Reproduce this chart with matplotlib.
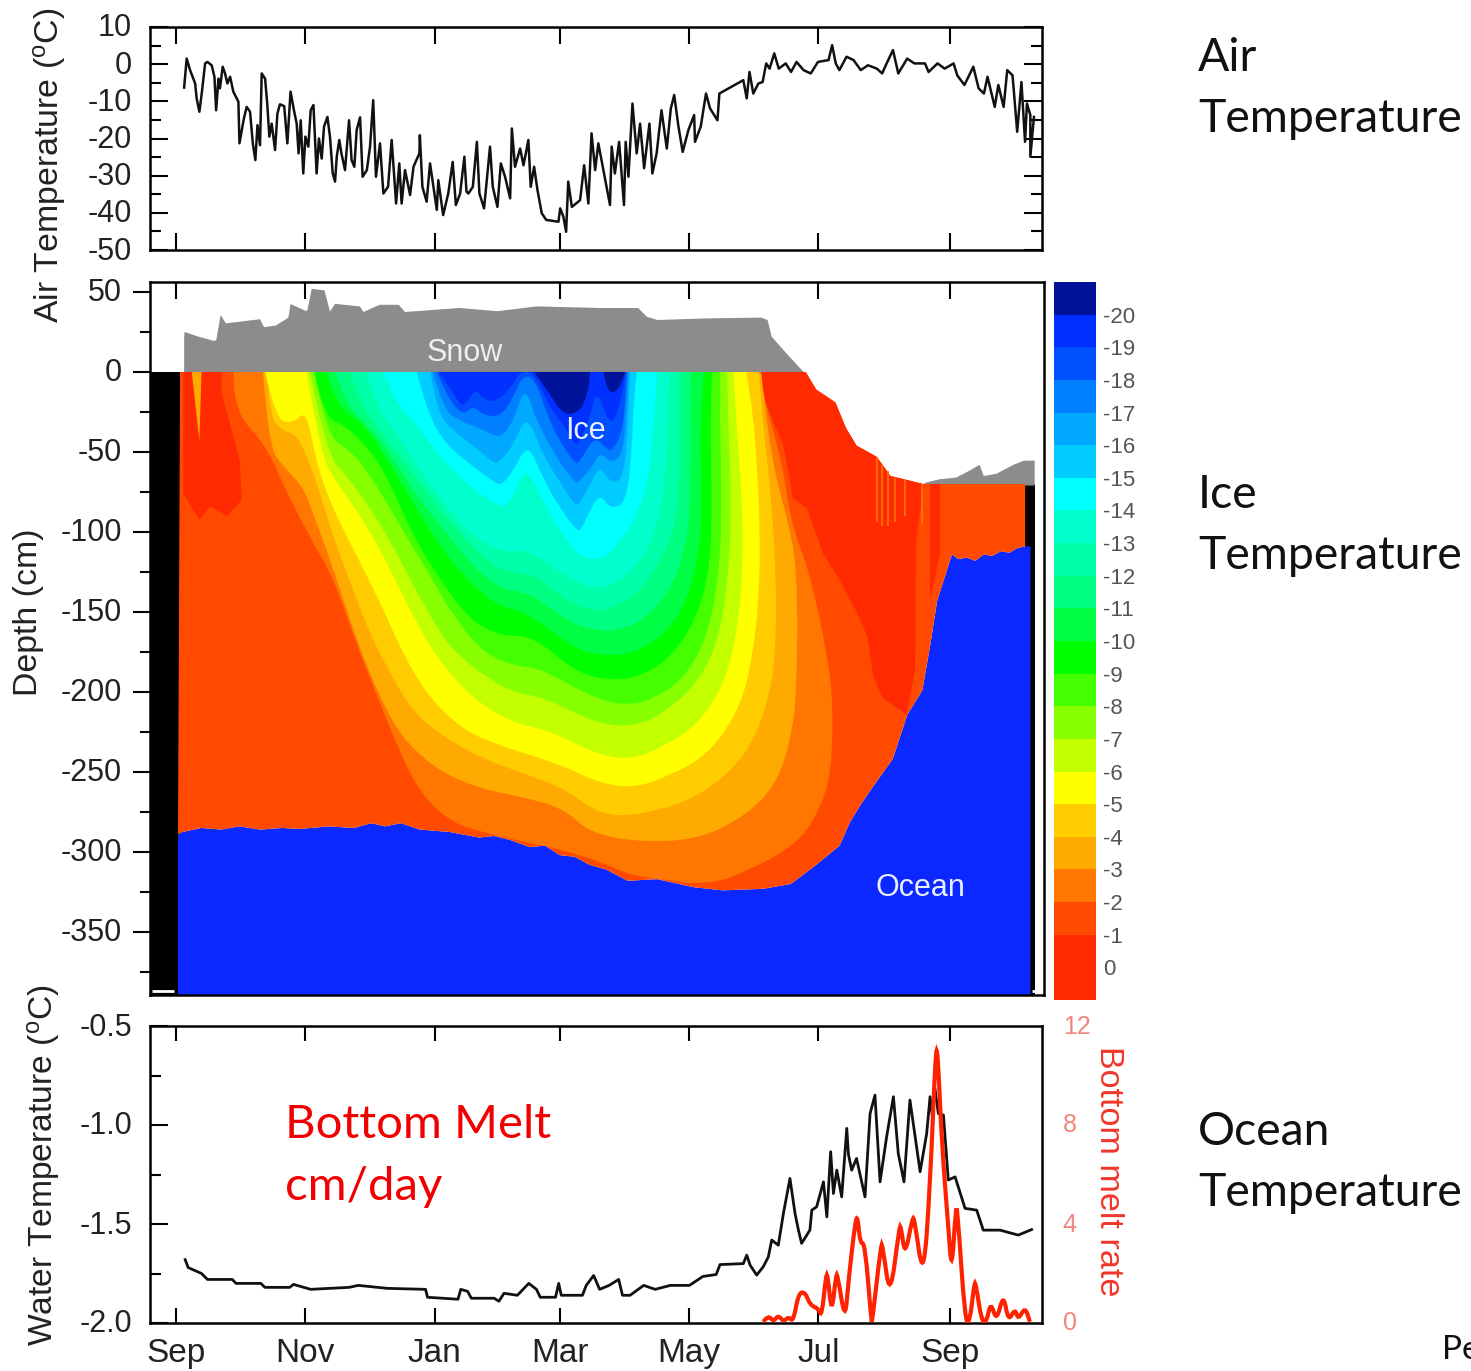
import matplotlib
matplotlib.use('Agg')
import matplotlib.pyplot as plt
from matplotlib.patches import PathPatch
from matplotlib.path import Path
from matplotlib.transforms import ScaledTranslation
import numpy as np

plt.rcParams['font.family'] = ['Liberation Sans', 'DejaVu Sans']
plt.rcParams['mathtext.default'] = 'regular'
plt.rcParams['axes.unicode_minus'] = False

# Shared time axis (days since 1 Sep)
month_days = [0, 61, 122, 181, 242, 303, 365]
month_labels = ['Sep', 'Nov', 'Jan', 'Mar', 'May', 'Jul', 'Sep']

# Air temperature
air_days = [3.8, 5.0, 6.6, 9.0, 9.7, 11.0, 12.1, 13.7, 14.8, 16.8, 18.1, 18.9, 20, 20.7, 22, 23.1, 24.2, 25.5, 27, 29.4,
            29.9, 31, 32, 33.3, 34.9, 36.2, 37.4, 38.4, 39.6, 40.4, 42, 43, 44, 45.1, 46.7, 47.8, 49, 51, 52.5, 54,
            55.6, 56.9, 57.8, 58.8, 60, 61, 62.4, 63.5, 64.8, 66.3, 67.4, 68.7, 69.8, 71.4, 72.6, 73.9, 75, 75.8, 77, 78,
            79.7, 81.6, 82.8, 84.1, 85.2, 86.8, 88, 90, 91.5, 93, 94.3, 96.2, 97.8, 100, 101.7, 103.8, 105.3, 106.4, 108, 110.4,
            112, 114.8, 115, 116.2, 118.2, 119.8, 121.4, 123, 123.7, 126, 128.4, 130.5, 132, 134, 136, 137,
            137.9, 140, 141.9, 143.1, 145.3, 148.1, 149.4, 151.6, 153.2, 155.2, 157.6, 158.4, 159.9, 162.3, 163.9, 166.2, 167.3, 168.9, 170.5, 172.5,
            174.6, 180.4, 181.2, 182.7, 184, 185, 186.7, 190.6, 192.5, 194.5, 196, 197.7, 199.2, 201.6, 204.7, 205.5, 207, 209, 211.3, 212.1,
            213.4, 215.3, 217.3, 218.9, 220.8, 223.3, 224.7, 226.7, 229, 231.5, 233.4, 235, 237, 239, 241.7, 244.4, 244.8, 247.5, 250, 251.9,
            255.4, 256.3, 267.6, 269.2, 270.5, 272.3, 274.7, 276.7, 278.4, 280, 282.2, 284.3, 287.6, 290.1, 292.7, 296, 299.4, 302.8, 307.8, 309.5,
            311.2, 312.9, 316.3, 319.6, 323, 326.4, 330.6, 333.1, 334.8, 338.2, 340.7, 344.9, 348.3, 353.3, 355, 359.2, 362.6, 366.8, 368.5, 371.9,
            376.1, 378.6, 381.1, 382.8, 386.2, 387.9, 390.4, 392.1, 394.6, 396.8, 398.8, 400.5, 401.4, 403, 403, 404.7]
air_temp = [-6.3, 1.5, -1.6, -5.2, -9.2, -12.8, -7.9, 0.2, 0.6, -0.3, -3.4, -12.4, -3.9, -6.5, -0.7, -2.5, -5.2, -3.4, -7.4, -10.1,
            -21.3, -17.7, -14.6, -11.5, -12.8, -21.3, -25.8, -16.4, -21.8, -2.5, -3.9, -10.6, -19.5, -16, -23.1, -13.3, -10.8, -11.3, -21.3, -7.4,
            -12.4, -16, -24, -15.1, -29.4, -19.5, -22.2, -12.4, -11, -29.4, -20, -25.4, -16.8, -14.2, -19.5, -29.4, -31.6, -24.9, -20.4, -24,
            -28.5, -15.1, -25.8, -27.6, -17.7, -14.3, -30.3, -28.5, -22.2, -9.7, -30.3, -21.3, -34.8, -33, -20.4, -37.5, -26.7, -37.5, -28.5, -35.2,
            -27.6, -24, -19.1, -33, -37, -26.7, -33, -39.2, -31.2, -40.6, -34.8, -26.3, -37.9, -34.8, -24.9, -34.3,
            -34.8, -33, -20.9, -34.8, -38.8, -22.2, -33, -38.4, -26.7, -30.3, -36.1, -17.3, -27.6, -22.7, -27.2, -20.4, -33, -27.6, -33.9, -40.1,
            -41.9, -42.4, -38.8, -41, -45.1, -31.6, -38.4, -36.6, -27.2, -37.5, -18.6, -28.5, -21.3, -28.5, -37.9, -22.2, -29.4, -20.9, -37.9, -20.9,
            -30.3, -10.6, -24, -16, -28, -16, -29.4, -24, -12.4, -22.7, -11.9, -8.3, -16.8, -23.6, -17.7, -13.7, -20.9, -16.8, -7.9, -11.9,
            -15.1, -7.9, -4.3, -9.2, -2.1, -7.9, -5.2, -4.8, 0.2, -1.2, 2.9, -1.2, 0.2, -2.1, 0.6, -1.6, -2.5, 0.6, 1.1, 5.1,
            0.2, -1.6, 2, 1.1, -1.6, -0.3, -1.2, -2.5, -0.3, 3.8, -2.5, 1.5, 0.2, 0.2, -2.1, 0.2, -1.2, 0.2, -3, -5.6,
            -0.7, -6.5, -7.9, -3.4, -11.5, -5.6, -11.5, -1.6, -3, -18.2, -4.8, -20.9, -10.6, -13.7, -24.9, -14.2]

# Snow surface (height above ice top, cm)
snow_days = [3.8, 4, 10.8, 18, 19, 21, 23.5, 39.6, 41.5, 47, 53, 54, 61.4, 62, 64, 70, 72.6, 75, 86.7, 88.4, 96, 105, 108,
             133.6, 151.6, 170, 200, 218, 222, 227, 250.5, 276, 279, 281, 288, 296]
snow_top = [21, 25, 22, 19.4, 20, 35.6, 30.4, 33, 28, 29, 34, 42.5, 38, 39, 52, 51, 37.8, 42.6, 41, 37.5, 42, 42, 37.5,
            40, 38, 41, 40, 40, 34.6, 32.5, 33.5, 34, 32.5, 22, 11.5, 0]
late_snow_days = [352.5, 354, 360.4, 368, 374.5, 379, 381, 387, 395, 400, 405]
late_snow_top = [-70, -69, -67, -66, -61.5, -58, -65, -63.6, -58, -55.4, -55.4]

# Ice surface and ice bottom (cm)
ice_top_days = [1.9, 297, 302, 311, 316, 321, 330.5, 337, 352.5, 400.5]
ice_top = [0, 0, -11, -19, -35, -46, -53, -65, -70, -70]
ice_bottom_days = [0.9, 3, 12, 21, 30, 39.6, 50, 58.5, 72, 84, 92, 98.6, 106, 115, 129, 143, 150, 157.5, 167, 174, 181, 188, 195, 203, 213, 227, 244, 258, 277, 290,
                   302, 313, 318, 323.6, 332, 338, 345, 352, 355.7, 359, 366, 369, 373, 377, 381, 385, 389, 393, 397, 400.5]
ice_bottom = [-289, -287.5, -285, -286, -284, -286, -285, -285.6, -284, -285, -282, -284, -282, -286, -287.5, -291, -290, -292.5, -297, -296, -302, -303, -308, -311, -318, -317, -322, -324, -323, -320,
              -308, -296, -281, -269, -253, -242, -214, -199, -171, -143, -114, -117, -116, -118, -114, -115, -112, -113, -110, -109]

# Isotherms: edge of the ice colder than each temperature
iso2_days = [27, 27, 42, 51, 63, 74, 85, 95, 105, 115, 129, 145, 169, 183, 200, 215, 235, 244, 258, 270, 283, 296, 304, 309, 310, 307, 299, 290, 286, 277, 276]
iso2_depth = [0, -24, -45, -72, -103, -128, -170, -203, -236, -263, -281, -288, -295, -299, -306, -315, -318, -320, -318, -311, -303, -290, -272, -251, -208, -175, -126, -94, -57, -15, 0]
iso3_days = [41, 43.5, 52, 60, 65, 72.6, 82, 91, 102.5, 112, 126, 145, 168.5, 184, 195, 219, 247, 269, 283, 290, 293, 293, 288, 283.3, 279, 276]
iso3_depth = [0, -47, -61, -72, -90, -117, -155, -188, -220, -236, -251, -261, -267, -274, -288, -294, -292, -277, -258, -230, -197, -122, -90, -68, -36, -1]
iso4_days = [43, 44, 50.6, 57, 63, 68, 72.6, 80, 90, 99, 112, 126, 145, 168.5, 184, 200, 219, 247, 269, 279, 283, 283, 280, 277, 275]
iso4_depth = [0, -28, -37, -39, -57, -76, -97, -124, -159, -184, -213, -228, -242, -253, -261, -277, -277, -266, -240, -208, -176, -122, -68, -36, 0]
iso5_days = [42, 47, 55, 61.6, 65.5, 71, 79, 88, 98, 107, 118, 132, 145, 168.5, 184, 200, 216, 231.5, 250.3, 264.5, 271, 275, 275.5, 274, 272, 269]
iso5_depth = [0, -30, -32, -24, -53, -76, -99, -122, -149, -176, -201, -220, -230, -240, -247, -257, -260, -253, -240, -214, -186, -143, -100, -57, -25, 0]
iso6_days = [61.6, 68, 76, 85, 94.6, 102.5, 112, 120, 131, 145, 160.6, 176, 200, 216, 230, 245.6, 258, 264.5, 267.6, 267, 264.5, 263]
iso6_depth = [0, -51, -70, -86, -107, -128, -153, -172, -192, -209, -220, -224, -240, -242, -234, -221, -197, -165, -122, -79, -36, 0]
iso7_days = [63, 71, 80.4, 90, 102.5, 112, 121, 129, 145, 160.6, 173, 200, 219, 233, 247, 256.6, 261, 262, 260.5, 260]
iso7_depth = [0, -51, -65, -82, -109, -134, -155, -172, -190, -201, -203, -221, -221, -210, -193, -165, -122, -79, -36, 0]
iso8_days = [65, 71, 82, 91, 107, 120, 131, 145, 160.6, 171.6, 200, 216, 225, 239, 251, 256.6, 257.4, 256.6, 256.6]
iso8_depth = [0, -40, -49, -63, -99, -128, -153, -176, -184, -185, -206, -208, -204, -193, -165, -122, -79, -36, 0]
iso9_days = [65.5, 69.5, 80.4, 90, 98, 112, 124.5, 138.6, 152.8, 168.5, 187, 200, 214, 225, 234.6, 245.6, 252, 252.7, 252, 252.7]
iso9_depth = [0, -28, -34, -47, -61, -103, -130, -155, -165, -165, -186, -192, -192, -186, -176, -154, -122, -79, -36, 0]
iso10_days = [71, 75, 88, 98, 112, 124.5, 138.6, 152.8, 165, 187, 200, 216, 231.5, 241, 247, 248, 247, 249]
iso10_depth = [0, -20, -32, -51, -82, -109, -132, -147, -150, -172, -177.5, -176, -163, -143, -111, -79, -36, 0]
iso11_days = [75, 80, 91, 101, 115, 127.6, 142, 154, 167, 186, 200, 211, 223.6, 234.6, 241, 242.5, 242.5, 242.5]
iso11_depth = [0, -20, -34, -51, -80, -101, -124, -136, -138, -157, -162, -161, -152, -133, -105, -79, -36, 0]
iso12_days = [82, 87, 96, 107, 121, 134, 148, 159, 168.5, 186, 200, 203, 216, 228, 234.6, 237, 238, 238]
iso12_depth = [0, -20, -36, -55, -80, -101, -120, -126, -126, -145, -150, -148, -141, -120, -100, -79, -36, 0]
iso13_days = [90, 94.6, 102.5, 113.5, 126, 140, 154, 165, 176, 189, 200, 205, 216, 225, 230, 232, 233]
iso13_depth = [0, -22, -36, -59, -82, -103, -113, -111, -120, -132, -135, -133, -124, -104.5, -79, -36, 0]
iso14_days = [98, 104, 112, 124.5, 138.6, 152.8, 155, 159, 165, 175, 184, 191, 200, 205, 216, 223, 225, 227]
iso14_depth = [0, -20, -30, -53, -72, -84, -84, -78, -58, -86, -105, -116, -117, -113, -94, -68, -36, 0]
iso15_days = [113.6, 118, 126, 137, 151, 154, 159, 166, 173, 181, 189, 191, 195, 200, 205, 212.6, 215, 216, 217.3]
iso15_depth = [0, -23, -43.5, -56, -70, -70, -62, -44, -66.5, -85, -99, -99, -87, -76, -86, -81, -48, -16, 0]
iso16_days = [120, 123, 131, 140, 150, 152, 159, 165.4, 173, 181, 188, 190, 195, 200, 205, 211, 213, 214]
iso16_depth = [0, -25, -37, -46, -57, -57, -46, -26, -52, -68.5, -83, -83, -71, -58, -70, -66.5, -37, 0]
iso17_days = [121, 126, 134, 143.4, 153, 159, 164.6, 170, 179.6, 188, 190, 197, 200, 205, 211, 212.6, 213.4]
iso17_depth = [0, -23, -31, -35, -42, -31, -8, -31, -54, -69, -69, -58, -50, -57, -52, -16, 0]
iso18_days = [123, 129, 135.6, 140, 145, 153, 159, 163, 169, 175, 181, 188, 190, 197, 201.6, 205, 211, 212.6]
iso18_depth = [0, -18.5, -27, -21, -27, -28, -16.4, -3, -3, -27, -43.5, -57, -57, -41, -45.6, -51, -37, 0]
iso19_days = [124, 131, 135.6, 141, 145, 151, 159, 162, 169, 176.4, 184, 188, 190, 195, 198.4, 205, 209.5, 212]
iso19_depth = [0, -14, -23, -10, -17, -19, -8, 0, 0, -23, -35, -45, -45, -29, -10, -35, -20.6, 0]
iso20_days = [169, 176.4, 182.7, 190.6, 194.5, 195.3]
iso20_depth = [0, -14, -27, -25, -12.3, 0]
iso20b_days = [201.6, 203, 208, 212]
iso20b_depth = [0, -12, -13, 0]

# Warmest ice: the two red patches, the thin red strip and the early-season teeth
red_left_days = [3.4, 3.4, 11, 16, 24, 31, 30, 21.5, 21.5]
red_left_depth = [0, -76, -92.5, -84, -90, -80, -55, -13, 0]
red_right_days = [276, 355, 352.5, 349, 348.6, 344.6, 333.6, 329, 326, 321, 313, 305, 297.5, 291, 286.5, 277]
red_right_depth = [0, 0, -72, -107, -186.5, -214.5, -204, -191, -165, -150, -130, -113, -85, -79, -46, -16]
red_strip_days = [355.6, 360.4, 360.4, 355.6]
red_strip_depth = [-70, -70, -113, -143]
tooth_a_days = [7.4, 11, 12]
tooth_a_depth = [0, -43, 0]
tooth_b_days = [27.8, 39.6, 39.6]
tooth_b_depth = [0, -32, 0]
tooth_c_days = [35, 38, 39.6]
tooth_c_depth = [0, -17, 0]
melt_streak_days = [330.5, 333, 336, 339, 344, 352]
melt_streak_top = [-53, -58, -62, -66, -67, -70]
melt_streak_bottom = [-94, -96, -96, -94, -90, -95]

# Colour scale
scale_edges = [-21, -20, -19, -18, -17, -16, -15, -14, -13, -12, -11, -10, -9, -8, -7, -6, -5, -4, -3, -2, -1, 1]
scale_colors = ['#00129a', '#0030ff', '#0050ff', '#0080ff', '#00a8ff', '#00ccff', '#00ffff', '#00ffcc', '#00ffaa', '#00ff80', '#00ff44',
                '#00ff00', '#44ff00', '#88ff00', '#c4ff00', '#ffff00', '#ffcc00', '#ffaa00', '#ff7700', '#ff4a00', '#ff2a00']
scale_ticks = [-20, -19, -18, -17, -16, -15, -14, -13, -12, -11, -10, -9, -8, -7, -6, -5, -4, -3, -2, -1, 0]

# Water temperature
water_days = [4.3, 5.7, 12, 14.8, 26.5, 28.3, 40, 41.9, 53.6, 55.4, 63.5, 81.6, 86, 99.6, 117.7, 118.6, 133, 134.3, 137.5, 139.3,
              150, 152.3, 154.7, 161, 166.4, 170, 171.8, 179, 180.5, 181.7, 191.7, 193.5, 197, 199.8, 204.3, 208.8, 210.6, 214.2, 220.6, 226,
              233.2, 242.2, 248.5, 254.8, 256.6, 267.6, 269.2, 270.8, 273.9, 277, 279.4, 281, 284.1, 286.5, 289.6, 292, 293.6, 295.1, 299, 299.9,
              302.2, 305.4, 307, 308.8, 310.1, 311.7, 314, 316.4, 317.2, 318.7, 321, 325, 327.4, 329.7, 332.1, 335.2, 338.4, 340.7, 343.4, 346.2,
              351, 354.1, 355.7, 356.8, 357.5, 358, 359.6, 362, 364.3, 367.5, 372.2, 377.7, 380.8, 388.7, 397.3, 403.6]
water_temp = [-1.68, -1.72, -1.75, -1.78, -1.78, -1.80, -1.80, -1.82, -1.82, -1.805, -1.83, -1.82, -1.81, -1.825, -1.83, -1.87, -1.88, -1.83, -1.84, -1.875,
              -1.875, -1.89, -1.85, -1.86, -1.80, -1.83, -1.87, -1.87, -1.80, -1.86, -1.86, -1.81, -1.76, -1.83, -1.81, -1.78, -1.86, -1.86, -1.81, -1.83,
              -1.81, -1.81, -1.765, -1.755, -1.705, -1.70, -1.657, -1.708, -1.758, -1.716, -1.666, -1.581, -1.607, -1.447, -1.27, -1.447, -1.531, -1.598, -1.531, -1.43,
              -1.413, -1.287, -1.464, -1.135, -1.346, -1.228, -1.363, -1.017, -1.15, -1.228, -1.169, -1.363, -0.942, -0.849, -1.287, -1.06, -0.857, -1.144, -1.287, -0.874,
              -1.236, -1.043, -0.857, -0.96, -0.82, -0.815, -0.942, -0.95, -1.278, -1.262, -1.421, -1.43, -1.531, -1.531, -1.556, -1.528]

# Bottom melt rate (cm/day)
melt_days = [277, 279.4, 281.8, 284.1, 286.5, 288.9, 291.2, 293.6, 296.7, 299.1, 303, 304.6, 306.6, 307.4, 309.3, 311.3, 312.1, 315.6, 317.2, 320.6, 321.6, 322.7, 325,
             328, 328.4, 332.5, 333.3, 336.8, 341.2, 342, 343.9, 347.3, 348.3, 352.5, 355.7, 358.3, 359.3, 361.2, 364.3, 365.9, 367.8, 368.6, 372.2, 374.5, 376.5, 377.3, 380, 382.4, 384.3, 387.1,
             390.3, 392.6, 395.8, 397.3, 400.5, 402.8]
melt_rate = [0.05, 0.32, 0.05, 0.32, 0.05, 0.25, 0.05, 1.2, 1.26, 0.72, 0.59, 0.25, 1.94, 1.94, 0.32, 1.94, 1.94, 0.05, 1.73, 4.23, 4.23, 3.22, 3.22,
             0.05, 0.05, 3.15, 3.15, 0.93, 3.89, 3.89, 2.68, 4.23, 4.23, 1.67, 5.51, 11, 11, 7.26, 3.89, 2, 4.63, 4.63, 0.05, 0.05, 1.6, 1.6, 0.05, 0.05, 0.86, 0.05,
             1.2, 0.05, 0.59, 0.12, 0.66, 0.05]

W, H = 1471, 1371
fig = plt.figure(figsize=(W / 100, H / 100), dpi=100)


def panel(left, top, right, bottom):
    return fig.add_axes([left / W, 1 - bottom / H, (right - left) / W, (bottom - top) / H])


def style_spines(ax):
    for s in ax.spines.values():
        s.set_linewidth(1.8)


def shift_labels(ax, dy):
    # nudge the y tick labels a couple of pixels
    offset = ScaledTranslation(0, dy / 100, fig.dpi_scale_trans)
    for lab in ax.get_yticklabels():
        lab.set_transform(lab.get_transform() + offset)


def rounded_path(xs, ys, closed=False):
    # quadratic curves with the read points as control points
    pts = list(zip(xs, ys))
    verts = [pts[0]]
    codes = [Path.MOVETO]
    for a, b in zip(pts[1:-1], pts[2:]):
        verts += [a, ((a[0] + b[0]) / 2, (a[1] + b[1]) / 2)]
        codes += [Path.CURVE3, Path.CURVE3]
    verts.append(pts[-1])
    codes.append(Path.LINETO)
    if closed:
        verts.append(pts[0])
        codes.append(Path.CLOSEPOLY)
    return Path(verts, codes)


# Air temperature panel
ax1 = panel(150, 27, 1042, 250)
ax1.plot(air_days, air_temp, color='#111111', lw=1.8, solid_joinstyle='round')
ax1.set_xlim(-12.3, 408.5)
ax1.set_ylim(-50, 10)
ax1.set_xticks(month_days)
ax1.set_xticklabels([])
ax1.set_yticks(np.arange(-50, 11, 10))
ax1.set_yticks(np.arange(-45, 10, 10), minor=True)
ax1.tick_params(axis='x', direction='in', top=True, bottom=True, length=12, width=1.5)
ax1.tick_params(axis='y', which='major', direction='in', left=True, right=True, length=13, width=1.5, labelsize=22, pad=13, labelcolor='#222222')
ax1.tick_params(axis='y', which='minor', direction='in', left=True, right=True, length=8, width=1.5)
style_spines(ax1)
shift_labels(ax1, 2)

# Ice temperature panel
ax2 = panel(150, 282, 1044, 995)
ax2.set_xlim(-12.3, 409.4)
ax2.set_ylim(-389.4, 56.25)
bottom_depth = -389.4
ax2.fill_between([-12.3, 2.5], bottom_depth, 0, color='black', lw=0, zorder=1)
ax2.fill_between([400.5, 405], bottom_depth, -70, color='black', lw=0, zorder=1)
ax2.fill(snow_days + [296, 3.8], snow_top + [-1, -1], color='#8c8c8c', lw=0, zorder=1)
ax2.fill(late_snow_days + [405, 352.5], late_snow_top + [-71, -71], color='#8c8c8c', lw=0, zorder=1)
ax2.fill(ice_bottom_days + [403, 403, 0.9], ice_bottom + [-109, bottom_depth, bottom_depth], color='#0a28ff', lw=0, zorder=2)
ice_patch = ax2.fill(ice_top_days + ice_bottom_days[::-1], ice_top + ice_bottom[::-1], color=scale_colors[19], lw=0, zorder=3)[0]

warm_shapes = [(red_left_days, red_left_depth, 20), (red_right_days, red_right_depth, 20), (red_strip_days, red_strip_depth, 20),
               (tooth_a_days, tooth_a_depth, 17), (tooth_b_days, tooth_b_depth, 17), (tooth_c_days, tooth_c_depth, 15)]
for days, depth, band in warm_shapes:
    poly = ax2.fill(days, depth, color=scale_colors[band], lw=0, zorder=4)[0]
    poly.set_clip_path(ice_patch)

isotherms = [(iso2_days, iso2_depth, 18), (iso3_days, iso3_depth, 17), (iso4_days, iso4_depth, 16), (iso5_days, iso5_depth, 15),
             (iso6_days, iso6_depth, 14), (iso7_days, iso7_depth, 13), (iso8_days, iso8_depth, 12), (iso9_days, iso9_depth, 11),
             (iso10_days, iso10_depth, 10), (iso11_days, iso11_depth, 9), (iso12_days, iso12_depth, 8), (iso13_days, iso13_depth, 7),
             (iso14_days, iso14_depth, 6), (iso15_days, iso15_depth, 5), (iso16_days, iso16_depth, 4), (iso17_days, iso17_depth, 3),
             (iso18_days, iso18_depth, 2), (iso19_days, iso19_depth, 1), (iso20_days, iso20_depth, 0), (iso20b_days, iso20b_depth, 0)]
for days, depth, band in isotherms:
    poly = PathPatch(rounded_path(days, depth, closed=True), facecolor=scale_colors[band], lw=0, zorder=4)
    ax2.add_patch(poly)
    poly.set_clip_path(ice_patch)
ax2.vlines(melt_streak_days, melt_streak_bottom, melt_streak_top, color='#ff7700', lw=1.2, zorder=5)
ax2.plot([-11.5, -1], [-387, -387], color='white', lw=2, zorder=6, solid_capstyle='butt')
ax2.plot([403.6, 405], [-387, -387], color='white', lw=2, zorder=6, solid_capstyle='butt')

ax2.set_xticks(month_days)
ax2.set_xticklabels([])
ax2.set_yticks(np.arange(-350, 51, 50))
ax2.set_yticks(np.arange(-375, 50, 50), minor=True)
ax2.tick_params(axis='x', direction='in', top=True, bottom=False, length=12, width=1.5)
ax2.tick_params(axis='y', which='major', direction='out', left=True, length=12, width=1.5, labelsize=22, pad=8, labelcolor='#222222')
ax2.tick_params(axis='y', which='minor', direction='out', left=True, length=7, width=1.5)
style_spines(ax2)
shift_labels(ax2, 2)
ax2.text(136, 12, 'Snow', color='#eeeeee', fontsize=22, ha='center', va='center', zorder=7)
ax2.text(193, -37, 'Ice', color='#e8eeff', fontsize=22, ha='center', va='center', zorder=7)
ax2.text(351, -322.5, 'Ocean', color='#e8eeff', fontsize=22, ha='center', va='center', zorder=7)

# Colour bar
cax = panel(1054, 282, 1096, 1000)
cax.barh(scale_edges[:-1], [1] * len(scale_colors), height=np.diff(scale_edges), align='edge', color=scale_colors, lw=0)
cax.set_xlim(0, 1)
cax.set_ylim(1, -21)
cax.set_xticks([])
cax.yaxis.tick_right()
cax.set_yticks(scale_ticks)
cax.tick_params(axis='y', length=0, labelsize=16, labelcolor='#555555', pad=5)
for s in cax.spines.values():
    s.set_visible(False)

# Water temperature and bottom melt panel
ax3 = panel(150, 1026, 1042, 1323)
ax3.plot(water_days, water_temp, color='#111111', lw=2.0, zorder=3, solid_joinstyle='round')
ax3.set_xlim(-12.3, 408.5)
ax3.set_ylim(-2.0, -0.5)
ax3.set_xticks(month_days)
ax3.set_xticklabels(month_labels)
ax3.set_yticks([-2.0, -1.5, -1.0, -0.5])
ax3.set_yticks([-1.75, -1.25, -0.75], minor=True)
ax3.tick_params(axis='x', direction='in', top=True, bottom=True, length=11, width=1.5, labelsize=24, pad=11, labelcolor='#222222')
ax3.tick_params(axis='y', which='major', direction='in', left=True, right=True, length=13, width=1.5, labelsize=22, pad=13, labelcolor='#222222')
ax3.tick_params(axis='y', which='minor', direction='in', left=True, right=True, length=8, width=1.5)
style_spines(ax3)
shift_labels(ax3, 2)

ax4 = ax3.twinx()
ax4.add_patch(PathPatch(rounded_path(melt_days, melt_rate), facecolor='none', edgecolor='#ff2200', lw=3.0, zorder=4))
ax4.set_ylim(0, 12)
ax4.set_yticks([0, 4, 8, 12])
ax4.tick_params(axis='y', length=0, labelsize=18, labelcolor='#f2857c', pad=15)
for s in ax4.spines.values():
    s.set_visible(False)
shift_labels(ax4, 2)


def px_text(x, y, s, **kw):
    fig.text(x / W, 1 - y / H, s, **kw)


# Axis titles and slide annotations
px_text(50, 165, 'Air Temperature ($^{o}$C)', fontsize=24.4, rotation=90, ha='center', va='center', color='#222222')
px_text(28, 612, 'Depth (cm)', fontsize=24.4, rotation=90, ha='center', va='center', color='#222222')
px_text(44, 1165, 'Water Temperature ($^{o}$C)', fontsize=24.2, rotation=90, ha='center', va='center', color='#222222')
px_text(1108, 1171, 'Bottom melt rate', fontsize=24.6, rotation=270, ha='center', va='center', color='#f0362a')

px_text(285, 1125, 'Bottom Melt', fontsize=34, family='Lato', color='#f00000', va='center')
px_text(285, 1187, 'cm/day', fontsize=34, family='Lato', color='#f00000', va='center')
for label, y1, y2 in [('Air', 58, 119), ('Ice', 495, 556), ('Ocean', 1132, 1193)]:
    px_text(1198, y1, label, fontsize=33.4, family='Lato', color='#111111', va='center')
    px_text(1198, y2, 'Temperature', fontsize=33.4, family='Lato', color='#111111', va='center')
px_text(1442, 1350, 'Pe', fontsize=24, family='Lato', color='#111111', va='center')

fig.savefig('out.png', dpi=100)
